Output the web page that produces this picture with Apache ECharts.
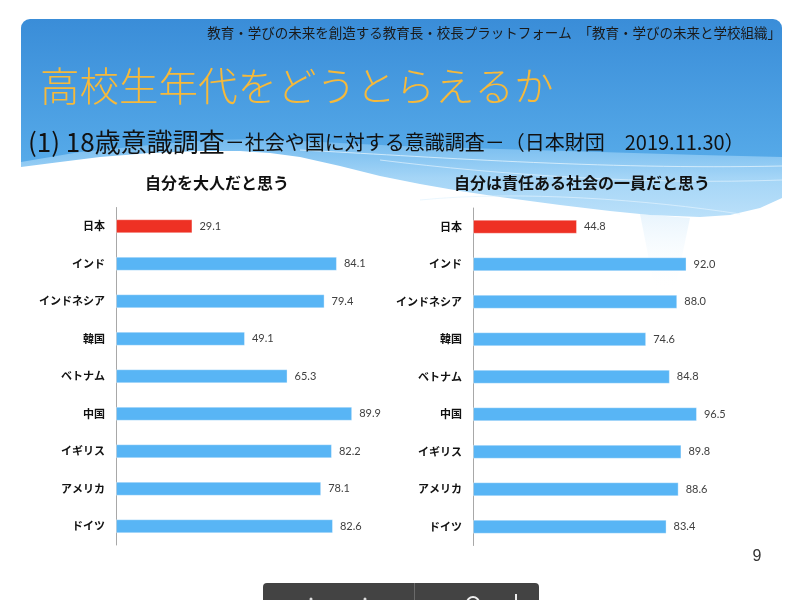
<!DOCTYPE html>
<html><head><meta charset="utf-8">
<script src="https://cdn.jsdelivr.net/npm/echarts@6/dist/echarts.min.js"></script>
<style>html,body{margin:0;padding:0;background:#fff;}#c{width:800px;height:600px;}</style>
</head><body><div id="c"></div>
<script>
const countries = ['日本','インド','インドネシア','韓国','ベトナム','中国','イギリス','アメリカ','ドイツ'];
const adultValues = [29.1, 84.1, 79.4, 49.1, 65.3, 89.9, 82.2, 78.1, 82.6];
const memberValues = [44.8, 92.0, 88.0, 74.6, 84.8, 96.5, 89.8, 88.6, 83.4];
const chartTitles = ['自分を大人だと思う','自分は責任ある社会の一員だと思う'];
const headerText = '教育・学びの未来を創造する教育長・校長プラットフォーム　「教育・学びの未来と学校組織」';
const mainTitle = '高校生年代をどうとらえるか';
const subTitleA = '(1) 18歳意識調査';
const subTitleB = '－社会や国に対する意識調査－（日本財団　2019.11.30）';
const pageNo = '9';

const RED = '#ee3124', BLUE = '#58b5f5';
const JP = '"Noto Sans CJK JP", sans-serif';
function items(vals){
  return vals.map((v,i)=>({value:v, itemStyle:{color: countries[i]==='日本'?RED:BLUE}}));
}
function yAx(gi){
  return {type:'category', gridIndex:gi, data:countries, inverse:true,
    axisLine:{show:true, lineStyle:{color:'#a8a8a8', width:1}},
    axisTick:{show:false},
    axisLabel:{margin:11, fontFamily:JP, fontWeight:'bold', fontSize:11, color:'#111'}};
}
function bar(gi, vals){
  return {type:'bar', xAxisIndex:gi, yAxisIndex:gi, data:items(vals), barWidth:14,
    itemStyle:{borderColor:'rgba(255,255,255,0.35)', borderWidth:1},
    label:{show:true, position:'right', distance:7, fontFamily:'Lato, "Open Sans", sans-serif', fontSize:11, color:'#404040',
      formatter:p=>p.value.toFixed(1)}};
}
const lightBand = [[21,162],[80,152],[150,145],[210,140],[260,139],[320,142],[400,146],[500,149],[600,152],[700,155],[782,157],[782,250],[21,250]];
const whiteWave = [[21,167],[60,162],[100,157],[150,153],[200,151],[240,151],[270,153],[300,157],[340,166],[380,176],[420,184],[460,191],[500,197],[560,205],[610,211],[650,215],[700,217],[730,215],[760,208],[782,198],[782,262],[21,262]];
const chart = echarts.init(document.getElementById('c'));
chart.setOption({
  animation:false,
  backgroundColor:'#ffffff',
  graphic:[
    {type:'rect', z:-10, shape:{x:21,y:19,width:761,height:230,r:[9,9,0,0]},
      style:{fill:{type:'linear',x:0,y:0,x2:0,y2:1,colorStops:[{offset:0,color:'#3a8dd8'},{offset:0.6,color:'#55a9e8'},{offset:1,color:'#7cc2f2'}]}}},
    {type:'polygon', z:-9, shape:{points:lightBand},
      style:{fill:{type:'linear',x:0,y:0,x2:0,y2:1,colorStops:[{offset:0,color:'rgba(130,195,242,0.7)'},{offset:0.35,color:'rgba(168,215,247,0.95)'},{offset:1,color:'rgba(205,233,252,1)'}]}}},
    {type:'polygon', z:-8, shape:{points:whiteWave}, style:{fill:'#ffffff'}},
    {type:'bezierCurve', z:-8, shape:{x1:300,y1:150,cpx1:420,cpy1:156,cpx2:600,cpy2:170,x2:782,y2:166}, style:{fill:null, stroke:'rgba(225,242,253,0.8)', lineWidth:1}},
    {type:'bezierCurve', z:-8, shape:{x1:380,y1:160,cpx1:500,cpy1:175,cpx2:650,cpy2:185,x2:782,y2:180}, style:{fill:null, stroke:'rgba(225,242,253,0.7)', lineWidth:1}},
    {type:'bezierCurve', z:-8, shape:{x1:420,y1:200,cpx1:520,cpy1:190,cpx2:650,cpy2:200,x2:740,y2:214}, style:{fill:null, stroke:'rgba(225,242,253,0.7)', lineWidth:1}},
    {type:'polygon', z:-7, shape:{points:[[640,214],[690,218],[675,290],[655,290]]},
      style:{fill:{type:'linear',x:0,y:0,x2:0,y2:1,colorStops:[{offset:0,color:'rgba(190,225,249,0.35)'},{offset:1,color:'rgba(255,255,255,0)'}]}}},
    {type:'text', x:781, y:33, style:{text:headerText, fontFamily:JP, fontSize:13.5, fill:'#1a1a1a', align:'right', verticalAlign:'middle'}},
    {type:'text', x:40, y:86, style:{text:mainTitle, fontFamily:JP, fontSize:39.5, fontWeight:300, fill:'#f6b93a', verticalAlign:'middle'}},
    {type:'text', x:28, y:142, style:{text:'{a|'+subTitleA+'}{b|'+subTitleB+'}', fontFamily:JP, verticalAlign:'middle', fill:'#111',
      rich:{a:{fontSize:26, fontFamily:JP, fill:'#111'}, b:{fontSize:20, fontFamily:JP, fill:'#111'}}}},
    {type:'text', x:217, y:183, style:{text:chartTitles[0], fontFamily:JP, fontSize:16, fontWeight:'bold', fill:'#111', align:'center', verticalAlign:'middle'}},
    {type:'text', x:582, y:183, style:{text:chartTitles[1], fontFamily:JP, fontSize:16, fontWeight:'bold', fill:'#111', align:'center', verticalAlign:'middle'}},
    {type:'text', x:757, y:557, style:{text:pageNo, fontFamily:'"Liberation Sans", sans-serif', fontSize:16, fill:'#333', align:'center', verticalAlign:'middle'}},
    {type:'rect', shape:{x:263,y:583,width:276,height:30,r:[4,4,0,0]}, style:{fill:'#434343'}},
    {type:'line', shape:{x1:414.5,y1:583,x2:414.5,y2:600}, style:{stroke:'#6a6a6a', lineWidth:1}},
    {type:'circle', shape:{cx:311,cy:599,r:1.5}, style:{fill:'#ddd'}},
    {type:'circle', shape:{cx:365,cy:599,r:1.5}, style:{fill:'#ddd'}},
    {type:'circle', shape:{cx:473,cy:603,r:6}, style:{fill:null, stroke:'#eee', lineWidth:2}},
    {type:'rect', shape:{x:515,y:594,width:2,height:6}, style:{fill:'#eee'}}
  ],
  grid:[
    {left:116, top:207.5, width:262.7, height:337.5},
    {left:473, top:208, width:232.1, height:337.5}
  ],
  xAxis:[
    {type:'value', gridIndex:0, min:0, max:100, show:false},
    {type:'value', gridIndex:1, min:0, max:100, show:false}
  ],
  yAxis:[yAx(0), yAx(1)],
  series:[bar(0, adultValues), bar(1, memberValues)]
});
</script></body></html>
